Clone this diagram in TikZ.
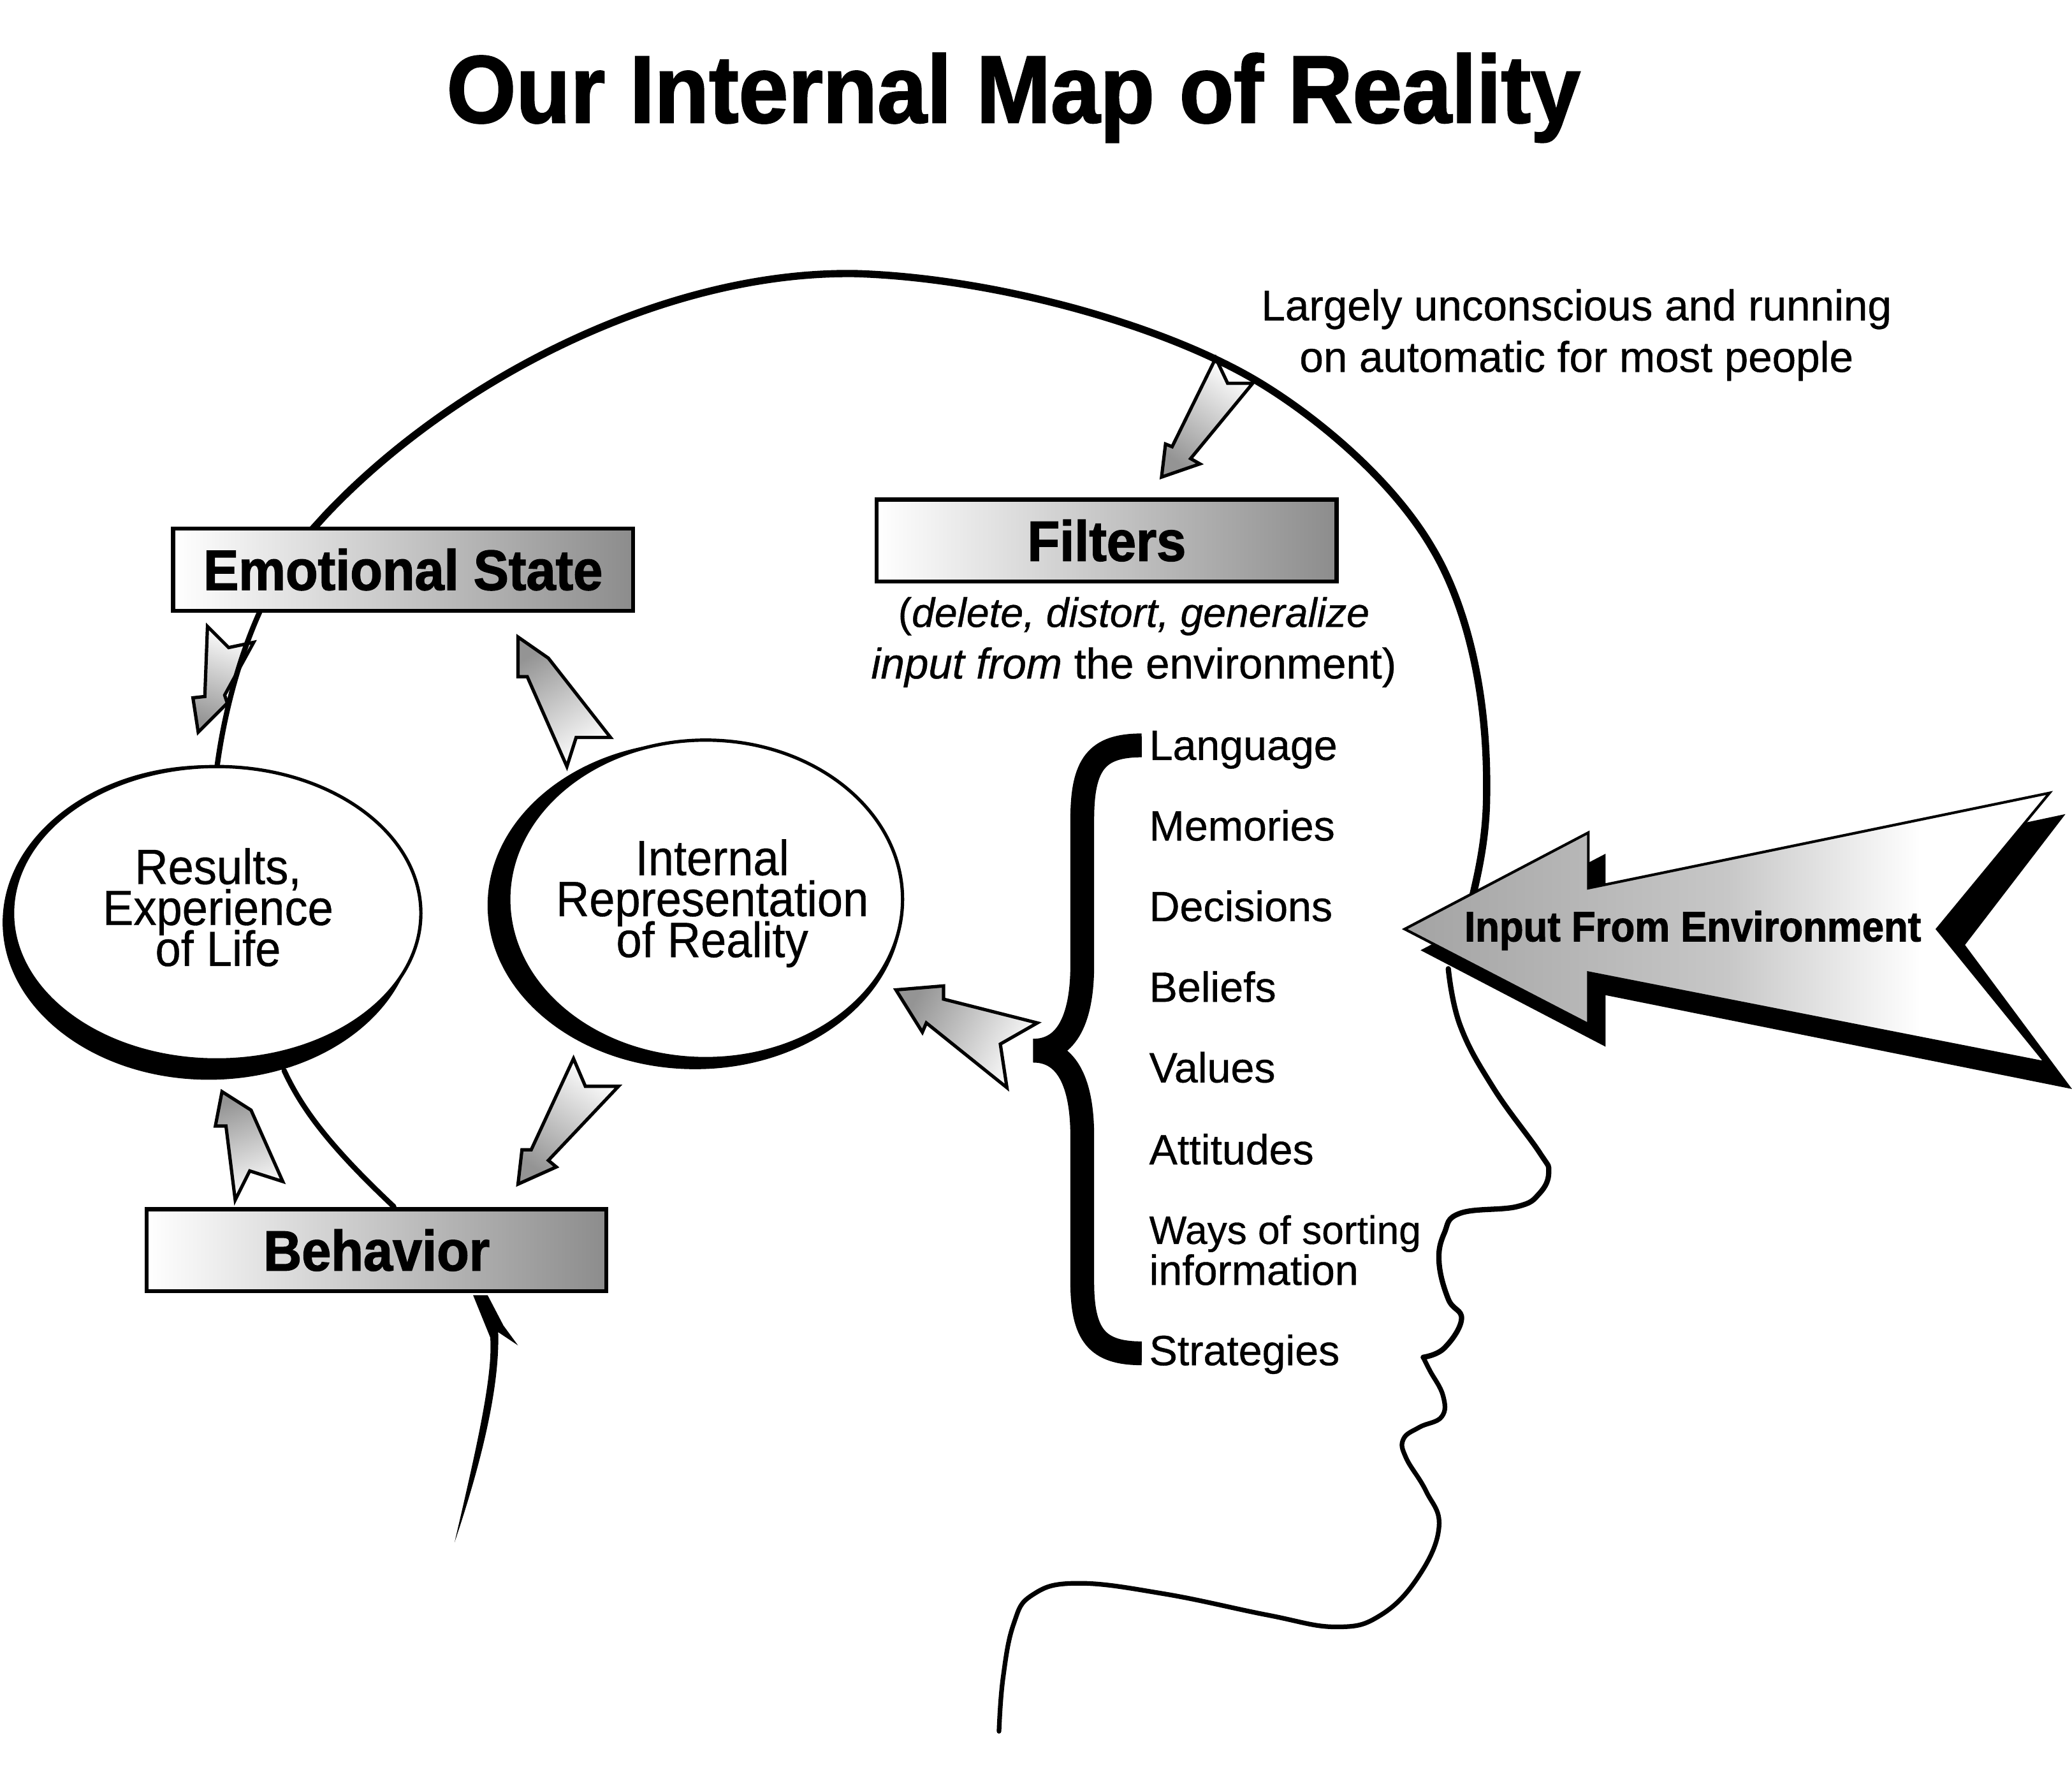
\documentclass[tikz,border=0pt]{standalone}
\usepackage{fontspec}
\setmainfont[FakeBold=0.6]{Liberation Sans}
\newfontfamily\slimfont[FakeStretch=0.93,FakeBold=0.5,BoldFeatures={FakeBold=1.6}]{Liberation Sans}
\usetikzlibrary{shapes.geometric}
\pgfdeclarehorizontalshading{arrowfade}{100bp}{color(0bp)=(black!36); color(25bp)=(black!36); color(50bp)=(black!22); color(65bp)=(white); color(100bp)=(white)}
\tikzstyle{banner} = [draw=black,line width=3pt,left color=white,right color=black!45,shading angle=90,minimum width=348pt,minimum height=62pt,inner sep=0pt,font=\slimfont\bfseries\fontsize{43}{43}\selectfont]
\tikzstyle{pointer} = [draw=black,line width=2.5pt,line join=miter,top color=black!42,bottom color=white]
\tikzstyle{bubble} = [draw=black,line width=2.5pt,fill=white,ellipse,inner sep=0pt]
\tikzstyle{bubbletext} = [inner sep=0pt,align=center,font=\slimfont\fontsize{37.5}{31}\selectfont\lineskiplimit -50pt]
\tikzstyle{listitem} = [anchor=base west,inner sep=0pt,align=left,font=\fontsize{32}{31}\selectfont\lineskiplimit -50pt]
\tikzstyle{headline} = [line cap=round,line join=round,draw=black]

\begin{document}
\begin{tikzpicture}[x=1pt,y=-1pt]
\useasboundingbox[fill=white] (0,0) rectangle (1568,1339.3);

\node[inner sep=0pt,font=\slimfont\bfseries\fontsize{72.5}{72.5}\selectfont] (title) at (767,74) {Our Internal Map of Reality};

\filldraw[pointer,shading angle=161] (157,474) -- (173,490) -- (192,486) -- (170,526) -- (172,532) -- (150,554) -- (146,528) -- (155,527) -- cycle;
\filldraw[pointer,shading angle=145] (920,271) -- (929,290) -- (948,290) -- (901,347) -- (908,351) -- (879,361) -- (882,336) -- (887,338) -- cycle;

\draw[headline,line width=4pt] (164,582) .. controls (172,520) and (195,445) .. (236,401);
\draw[headline,line width=5.5pt] (236,401) -- (246,390) .. controls (340,290) and (500,205) .. (647,207) .. controls (750,210) and (880,245) .. (954,290) .. controls (1000,318) and (1055,365) .. (1084,415) .. controls (1108,455) and (1126,520) .. (1125,600) .. controls (1125,630) and (1120,655) .. (1114,680);
\draw[headline,line width=4pt] (215,810) .. controls (228,838) and (248,866) .. (298,913);
\draw[headline,line width=4pt] plot[smooth,tension=0.7] coordinates {(1096,733) (1105,776) (1130,823) (1165,872) (1172,887) (1165,903) (1148,913) (1105,918) (1093,933) (1089,955) (1096,983) (1106,998) (1093,1020) (1077,1027)};
\draw[headline,line width=3.5pt] plot[smooth,tension=0.7] coordinates {(1077,1027) (1082,1037) (1092,1056) (1091,1072) (1074,1080) (1062,1089) (1064,1103) (1079,1128) (1089,1155) (1074,1192) (1045,1222) (1011,1231) (959,1222) (881,1206) (815,1198) (781,1207) (767,1229) (759,1270) (756,1310)};
\fill (358,980) -- (369,980) -- (381,1003) -- (392,1018) -- (377,1008) .. controls (378,1040) and (370,1090) .. (344,1167) .. controls (362,1090) and (373,1040) .. (371,1012) -- cycle;

\fill (158,698) ellipse (156 and 119);
\fill (526,685) ellipse (157 and 124);
\node[bubble,minimum width=309pt,minimum height=222pt] (results) at (164,691) {};
\node[bubble,minimum width=298pt,minimum height=241pt] (internal) at (534,680.5) {};
\node[bubbletext] (resultstext) at (165,686.5) {Results,\\Experience\\of Life};
\node[bubbletext] (internaltext) at (539,683.5) {Internal\\Representation\\of Reality};

\node[banner] (emotional) at (305,431) {Emotional State};
\node[banner] (filters) at (837.5,409) {Filters};
\node[banner] (behavior) at (285,946) {Behavior};

\filldraw[pointer,shading angle=32] (392,482) -- (415,498) -- (462,558) -- (436,558) -- (429,580) -- (399,512) -- (392,512) -- cycle;
\filldraw[pointer,shading angle=146] (434,801) -- (443,822) -- (468,822) -- (415,878) -- (421,883) -- (392,896) -- (395,870) -- (402,870) -- cycle;
\filldraw[pointer,shading angle=19] (168,826) -- (190,840) -- (214,894) -- (189,886) -- (178,908) -- (171,852) -- (163,852) -- cycle;
\filldraw[pointer,shading angle=61] (678,749) -- (714,746) -- (714,756) -- (785,774) -- (757,790) -- (762,823) -- (701,774) -- (698,781) -- cycle;

\draw[line width=18pt] (864,564) .. controls (830,564) and (819,578) .. (819,620) -- (819,730) .. controls (819,775) and (805,795) .. (782,795) .. controls (805,795) and (819,815) .. (819,860) -- (819,970) .. controls (819,1010) and (830,1024) .. (864,1024);

\fill[black] (1075,719) -- (1215,646) -- (1215,690) -- (1563,616) -- (1487,715) -- (1568,824) -- (1215,753) -- (1215,792) -- cycle;
\path[draw=black,line width=2pt,line join=miter,shade,shading=arrowfade] (1063,703) -- (1202,630) -- (1202,672) -- (1551,600) -- (1466,703) -- (1548,804) -- (1202,736) -- (1202,775) -- cycle;
\node[inner sep=0pt,font=\slimfont\bfseries\fontsize{32}{32}\selectfont] (input) at (1281,704) {Input From Environment};

\node[inner sep=0pt,align=center,font=\fontsize{32.5}{39}\selectfont] (note) at (1193,253.5) {Largely unconscious and running\\on automatic for most people};
\node[inner sep=0pt,align=center,font=\fontsize{32.5}{39}\selectfont] (filterinfo) at (858,486) {{\fontsize{31}{39}\selectfont(\textit{delete, distort, generalize}}\\\textit{input from} the environment)};

\node[listitem] (language) at (869.5,575) {Language};
\node[listitem] (memories) at (869.5,636) {Memories};
\node[listitem] (decisions) at (869.5,697) {Decisions};
\node[listitem] (beliefs) at (869.5,758) {Beliefs};
\node[listitem] (values) at (869.5,819) {Values};
\node[listitem] (attitudes) at (869.5,881) {Attitudes};
\node[listitem,anchor=west] (sorting) at (869.5,946) {{\fontsize{30}{31}\selectfont Ways of sorting}\\information};
\node[listitem] (strategies) at (869.5,1033) {Strategies};
\end{tikzpicture}
\end{document}
